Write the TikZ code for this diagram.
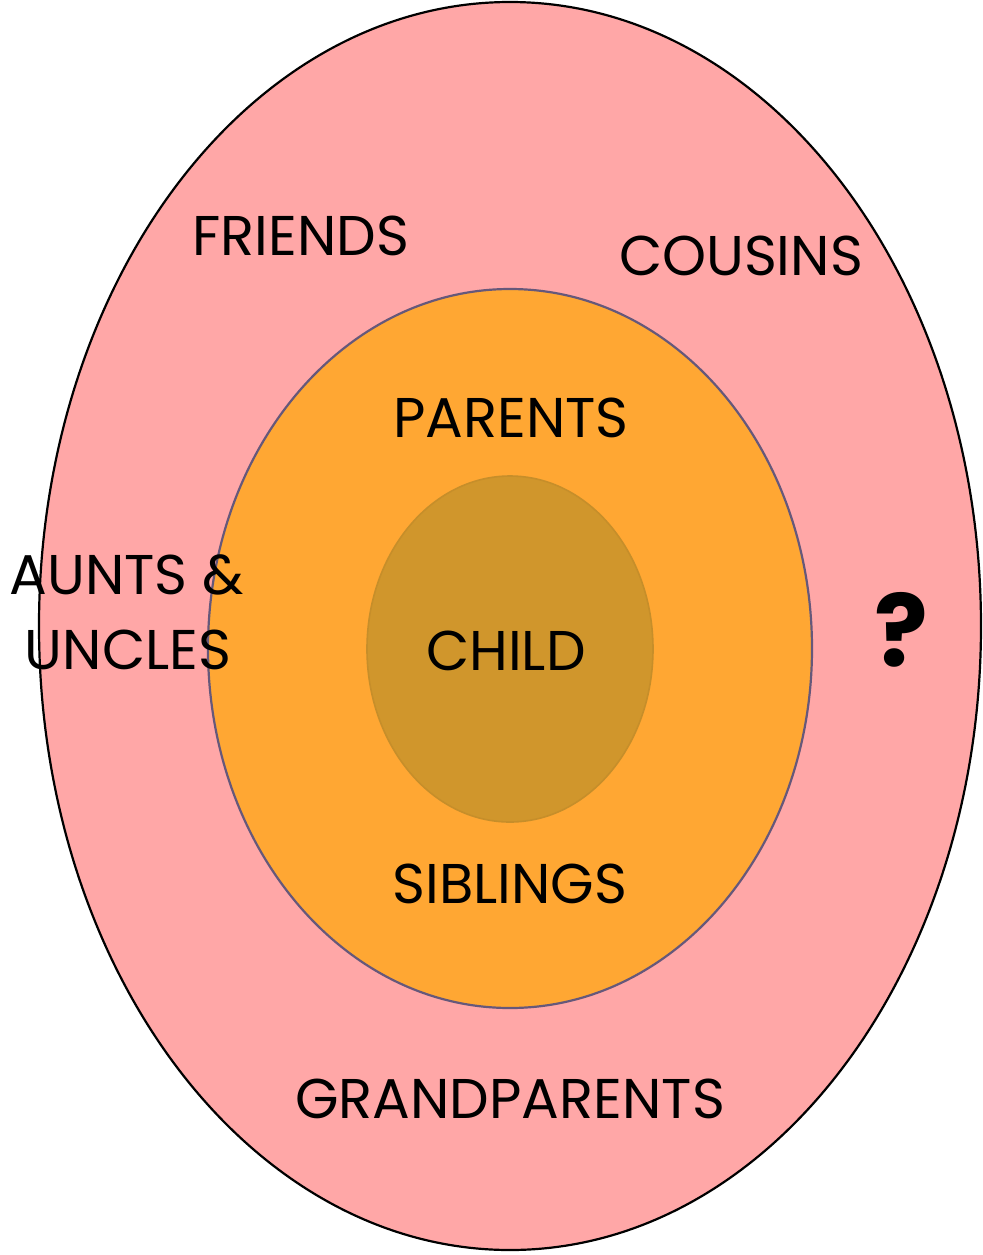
\documentclass[tikz,border=0pt]{standalone}
\usepackage{fontspec}
\setmainfont{Poppins}
\definecolor{ringpink}{HTML}{FFA7A7}
\definecolor{ringorange}{HTML}{FFA733}
\definecolor{ringochre}{HTML}{D0962C}
\definecolor{ochreline}{HTML}{C68E2A}
\definecolor{greyline}{HTML}{66587A}

\begin{document}
\begin{tikzpicture}[x=0.5pt, y=-0.5pt,
    lbl/.style={font=\fontsize{28}{32}\selectfont, inner sep=0pt},
    ask/.style={font=\fontsize{50}{54}\selectfont\bfseries, inner sep=0pt}]
\useasboundingbox (0,0) rectangle (982,1255);

% rings
\filldraw[fill=ringpink, draw=black, line width=1.1pt]
    (510,626) ellipse [x radius=235.5pt, y radius=312pt];
\filldraw[fill=ringorange, draw=greyline, line width=1.1pt]
    (510,648.5) ellipse [x radius=151pt, y radius=179.75pt];
\filldraw[fill=ringochre, draw=ochreline, line width=0.8pt]
    (510,649) ellipse [x radius=71.5pt, y radius=86.5pt];

% labels
\node[lbl] (friends) at (301,236) {FRIENDS};
\node[lbl] (cousins) at (741,256) {COUSINS};
\node[lbl] (parents) at (511,418) {PARENTS};
\node[lbl] (aunts) at (127,575) {AUNTS \&};
\node[lbl] (uncles) at (128,650) {UNCLES};
\node[lbl] (child) at (506,651) {CHILD};
\node[ask] (unknown) at (901,630) {?};
\node[lbl] (siblings) at (510,884) {SIBLINGS};
\node[lbl] (grandparents) at (510,1099) {GRANDPARENTS};
\end{tikzpicture}
\end{document}
